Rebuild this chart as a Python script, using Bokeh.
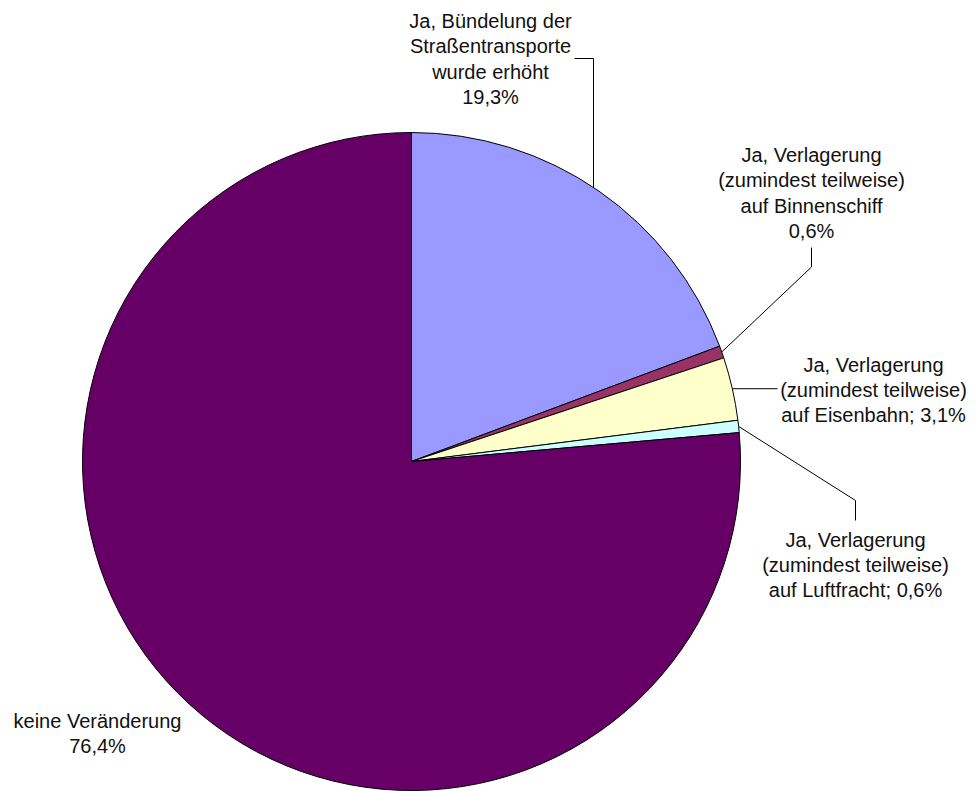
import math
from bokeh.plotting import figure
from bokeh.models import Range1d
from bokeh.core.properties import value
from bokeh.embed import file_html
from bokeh.resources import INLINE

# ---- data ----
categories = [
    "Ja, Bündelung der Straßentransporte wurde erhöht",
    "Ja, Verlagerung (zumindest teilweise) auf Binnenschiff",
    "Ja, Verlagerung (zumindest teilweise) auf Eisenbahn",
    "Ja, Verlagerung (zumindest teilweise) auf Luftfracht",
    "keine Veränderung",
]
shares = [19.3, 0.6, 3.1, 0.6, 76.4]
colors = ["#9999FF", "#993366", "#FFFFCC", "#CCFFFF", "#660066"]
label_lines = [
    ["Ja, Bündelung der", "Straßentransporte", "wurde erhöht", "19,3%"],
    ["Ja, Verlagerung", "(zumindest teilweise)", "auf Binnenschiff", "0,6%"],
    ["Ja, Verlagerung", "(zumindest teilweise)", "auf Eisenbahn; 3,1%"],
    ["Ja, Verlagerung", "(zumindest teilweise)", "auf Luftfracht; 0,6%"],
    ["keine Veränderung", "76,4%"],
]

# ---- layout (screen pixel coordinates of the picture) ----
W, H = 977, 791
def Y(sy):
    return H - sy

cx, cy_s, R = 411, 461, 329
cy = Y(cy_s)

label_cx = [490, 811, 873, 855, 97]
label_first_baseline = [28.5, 162.5, 372, 547, 728.5]
line_step = 25.4
text_shift = -8  # rendering correction for the alphabetic baseline

p = figure(width=W, height=H, output_backend="svg", toolbar_location=None,
           x_range=Range1d(0, W), y_range=Range1d(0, H), min_border=0)
p.axis.visible = False
p.grid.visible = False
p.outline_line_color = None
p.background_fill_color = "white"

total = sum(shares)
start = math.pi / 2
mids = []
for s, c in zip(shares, colors):
    sweep = 2 * math.pi * s / total
    end = start - sweep
    p.wedge(x=cx, y=cy, radius=R, start_angle=end, end_angle=start,
            fill_color=c, line_color="black", line_width=1)
    mids.append((start + end) / 2)
    start = end

def edge(a):
    return cx + R * math.cos(a), cy + R * math.sin(a)

# leader lines
vx = 593
vy = cy + math.sqrt(R * R - (vx - cx) ** 2)
p.line([574, vx, vx], [Y(58), Y(58), vy], line_color="black", line_width=1)
ex, ey = edge(mids[1])
p.line([811, 811, ex], [Y(247), Y(266.5), ey], line_color="black", line_width=1)
ex, ey = edge(mids[2])
p.line([ex, 777], [ey, ey], line_color="black", line_width=1)
ex, ey = edge(mids[3])
p.line([855, 855, ex], [Y(520), Y(500), ey], line_color="black", line_width=1)

# labels
for lines, lx, fb in zip(label_lines, label_cx, label_first_baseline):
    xs = [lx] * len(lines)
    ys = [Y(fb + text_shift + i * line_step) for i in range(len(lines))]
    p.text(x=xs, y=ys, text=lines, text_font=value("Liberation Sans"),
           text_font_size="20px", text_align="center",
           text_baseline="alphabetic", text_color="#111111")

open("out.html", "w").write(file_html(p, INLINE))
